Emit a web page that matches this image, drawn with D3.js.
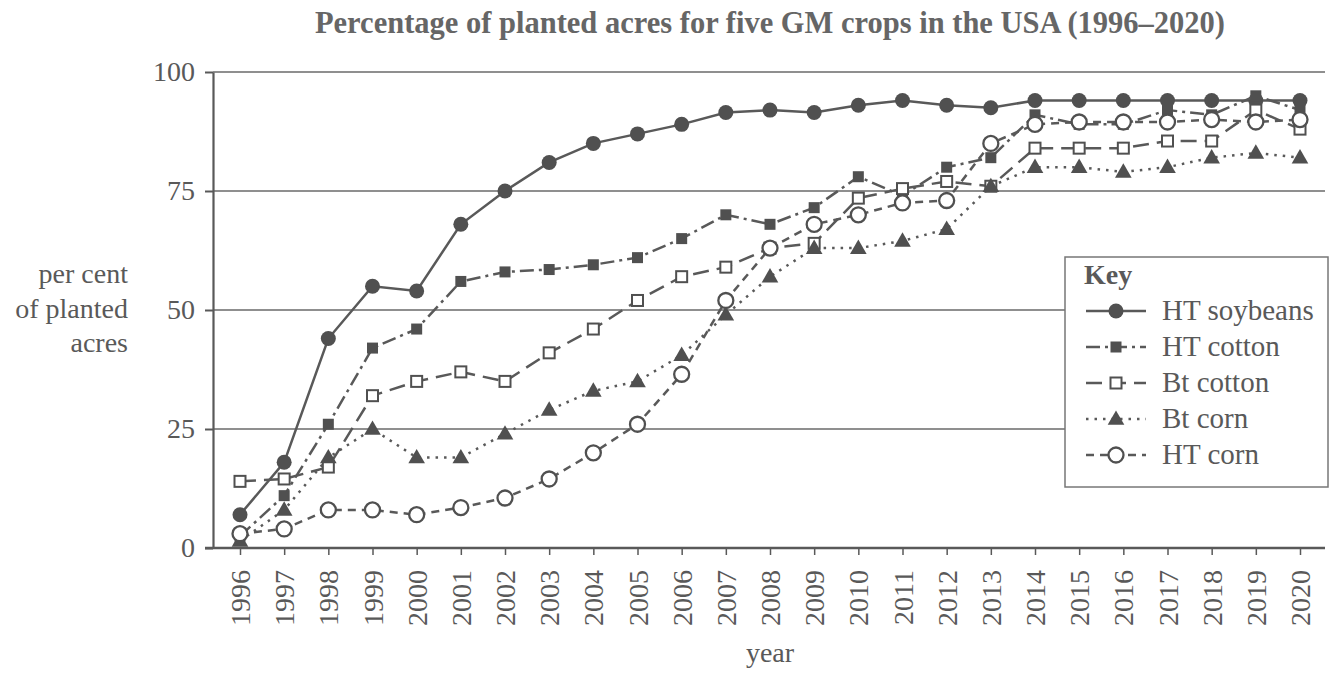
<!DOCTYPE html>
<html>
<head>
<meta charset="utf-8">
<script src="https://cdn.jsdelivr.net/npm/d3@7"></script>
<style>
  html, body { margin: 0; padding: 0; background: #fff; }
  svg { display: block; }
  text { font-family: "Liberation Serif", "Times New Roman", serif !important; fill: #595959; }
</style>
</head>
<body>
<svg id="chart" width="1330" height="678"></svg>
<script>
const years = [1996,1997,1998,1999,2000,2001,2002,2003,2004,2005,2006,2007,2008,2009,2010,2011,2012,2013,2014,2015,2016,2017,2018,2019,2020];
const htSoybeans = [7,18,44,55,54,68,75,81,85,87,89,91.5,92,91.5,93,94,93,92.5,94,94,94,94,94,94,94];
const htCotton   = [2.5,11,26,42,46,56,58,58.5,59.5,61,65,70,68,71.5,78,74,80,82,91,89,89,92,91,95,92];
const btCotton   = [14,14.5,17,32,35,37,35,41,46,52,57,59,63,64,73.5,75.5,77,76,84,84,84,85.5,85.5,92,88];
const btCorn     = [1.5,8,19,25,19,19,24,29,33,35,40.5,49,57,63,63,64.5,67,76,80,80,79,80,82,83,82];
const htCorn     = [3,4,8,8,7,8.5,10.5,14.5,20,26,36.5,52,63,68,70,72.5,73,85,89,89.5,89.5,89.5,90,89.5,90];
const yTicks = [0,25,50,75,100];
const seriesNames = ["HT soybeans","HT cotton","Bt cotton","Bt corn","HT corn"];

const series = [
  {name: seriesNames[0], values: htSoybeans, dash: null,           marker: "circleFilled"},
  {name: seriesNames[1], values: htCotton,   dash: "14,5,3,5",     marker: "squareFilled"},
  {name: seriesNames[2], values: btCotton,   dash: "16,8",         marker: "squareOpen"},
  {name: seriesNames[3], values: btCorn,     dash: "2.5,6",        marker: "triangle"},
  {name: seriesNames[4], values: htCorn,     dash: "8,6",          marker: "circleOpen"}
];

const svg = d3.select("#chart");
const plotLeft = 213, plotRight = 1325, plotTop = 72, plotBottom = 548;
const lineColor = "#595959", markColor = "#505050", gridColor = "#6a6a6a";
const serif = '"Liberation Serif", "Times New Roman", serif';

const x = d3.scalePoint().domain(years).range([240, 1300]);
const y = d3.scaleLinear().domain([0, 100]).range([plotBottom, plotTop]);

// Title
svg.append("text").attr("x", 770).attr("y", 33).attr("text-anchor", "middle")
  .style("font-size", "30.5px").style("font-weight", "bold").style("fill", "#666")
  .text("Percentage of planted acres for five GM crops in the USA (1996–2020)");

// Gridlines
svg.append("g").selectAll("line").data(yTicks.filter(d => d > 0)).join("line")
  .attr("x1", plotLeft).attr("x2", plotRight)
  .attr("y1", d => y(d)).attr("y2", d => y(d))
  .attr("stroke", gridColor).attr("stroke-width", 1.6);

// Y axis
const yAxis = d3.axisLeft(y).tickValues(yTicks).tickSize(8).tickPadding(10).tickSizeOuter(0);
const gy = svg.append("g").attr("transform", `translate(${plotLeft},0)`).call(yAxis)
  .attr("font-family", null).attr("font-size", null);
gy.select(".domain").attr("stroke", lineColor).attr("stroke-width", 2.2);
gy.selectAll(".tick line").attr("stroke", lineColor).attr("stroke-width", 2);
gy.selectAll(".tick text").style("font-size", "28px").style("font-family", serif).attr("fill", "#595959").attr("dy", "0.32em");

// X axis
const xAxis = d3.axisBottom(x).tickSize(7).tickSizeOuter(0).tickPadding(8);
const gx = svg.append("g").attr("transform", `translate(0,${plotBottom})`).call(xAxis)
  .attr("font-family", null).attr("font-size", null);
gx.select(".domain").remove();
gx.append("line").attr("x1", plotLeft - 8).attr("x2", plotRight).attr("y1", 0).attr("y2", 0)
  .attr("stroke", lineColor).attr("stroke-width", 2.5);
gx.selectAll(".tick line").attr("stroke", lineColor).attr("stroke-width", 1.5);
gx.selectAll(".tick text").style("font-size", "28px").style("font-family", serif).attr("fill", "#595959")
  .attr("text-anchor", "end").attr("transform", "rotate(-90)")
  .attr("x", -22).attr("y", 0).attr("dy", "0.34em");

// Axis titles
const yl = svg.append("text").attr("text-anchor", "end").style("font-size", "28px");
[["per cent", 283], ["of planted", 318], ["acres", 352]].forEach(([t, yy]) => {
  yl.append("tspan").attr("x", 128).attr("y", yy).text(t);
});
svg.append("text").attr("x", 770).attr("y", 662).attr("text-anchor", "middle").style("font-size", "28px").text("year");

// Marker drawing
function drawMarker(g, type, cx, cy) {
  if (type === "circleFilled") {
    g.append("circle").attr("cx", cx).attr("cy", cy).attr("r", 7.5).attr("fill", markColor);
  } else if (type === "squareFilled") {
    g.append("rect").attr("x", cx - 5.5).attr("y", cy - 5.5).attr("width", 11).attr("height", 11).attr("fill", markColor);
  } else if (type === "squareOpen") {
    g.append("rect").attr("x", cx - 5.5).attr("y", cy - 5.5).attr("width", 11).attr("height", 11)
      .attr("fill", "#fff").attr("stroke", markColor).attr("stroke-width", 2);
  } else if (type === "triangle") {
    g.append("path").attr("d", d3.symbol().type(d3.symbolTriangle).size(120)())
      .attr("transform", `translate(${cx},${cy + 1})`).attr("fill", markColor);
  } else if (type === "circleOpen") {
    g.append("circle").attr("cx", cx).attr("cy", cy).attr("r", 7.5).attr("fill", "#fff")
      .attr("stroke", markColor).attr("stroke-width", 2.3);
  }
}

// Series
const line = d3.line().x((d, i) => x(years[i])).y(d => y(d));
series.forEach(s => {
  const g = svg.append("g");
  g.append("path").attr("d", line(s.values)).attr("fill", "none")
    .attr("stroke", lineColor).attr("stroke-width", 2.5)
    .attr("stroke-dasharray", s.dash);
  s.values.forEach((v, i) => drawMarker(g, s.marker, x(years[i]), y(v)));
});

// Legend
const lg = svg.append("g");
lg.append("rect").attr("x", 1065).attr("y", 257).attr("width", 263).attr("height", 230)
  .attr("fill", "#fff").attr("stroke", "#777").attr("stroke-width", 1.5);
lg.append("text").attr("x", 1084).attr("y", 284).style("font-size", "28px").style("font-weight", "bold").text("Key");
series.forEach((s, i) => {
  const ly = 311 + i * 36;
  lg.append("line").attr("x1", 1086).attr("x2", 1146).attr("y1", ly).attr("y2", ly)
    .attr("stroke", lineColor).attr("stroke-width", 2.5).attr("stroke-dasharray", s.dash);
  drawMarker(lg, s.marker, 1116, ly);
  lg.append("text").attr("x", 1162).attr("y", ly + 9).style("font-size", "29px").text(s.name);
});
</script>
</body>
</html>
